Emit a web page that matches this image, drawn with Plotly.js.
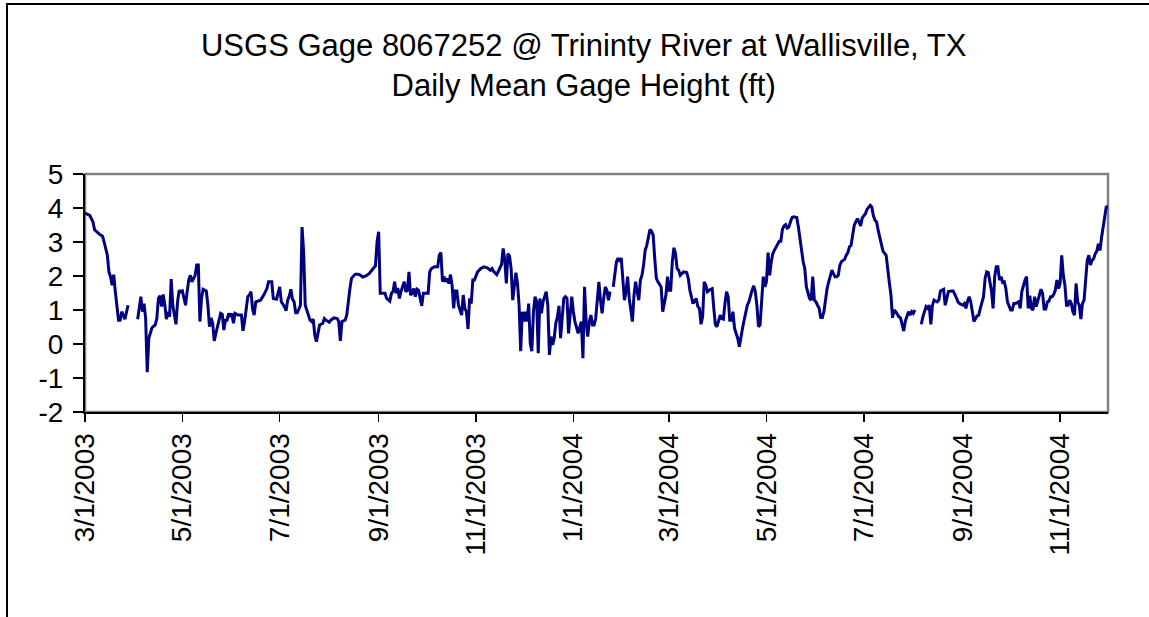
<!DOCTYPE html>
<html>
<head>
<meta charset="utf-8">
<script src="https://cdn.plot.ly/plotly-3.0.1.min.js"></script>
<style>
  html, body { margin: 0; padding: 0; background: #fff; }
  #wrap { position: relative; width: 1149px; height: 617px; overflow: hidden; }
  #chart { position: absolute; left: 0; top: 0; width: 1149px; height: 617px; }
  #frame { position: absolute; left: 6px; top: 3px; width: 1200px; height: 700px;
           border-left: 2px solid #000; border-top: 2px solid #000; pointer-events: none; }
</style>
</head>
<body>
<div id="wrap"><div id="chart"></div><div id="frame"></div></div>
<script>
// Series start date (day offset 0)
const startDate = '2003-03-01';

// Day offsets from 3/1/2003 at which gage height was read
const dayOffset = [
  0,3,5,6,9,11,12,14,15,16,17,18,19,21,22,23,25,26,27,30,
  33,34,35,36,37,38,39,40,42,44,45,46,47,48,49,50,51,52,53,54,
  55,57,58,59,60,61,63,64,65,66,67,69,70,71,72,73,74,76,77,78,
  79,80,81,82,83,84,85,86,87,88,89,90,91,92,93,94,96,98,99,100,
  102,103,104,105,106,107,109,110,112,114,115,117,118,119,120,122,123,125,126,127,
  128,129,130,131,132,133,135,136,137,138,140,141,142,143,144,145,147,149,150,151,
  153,154,156,158,159,160,161,163,164,165,166,167,169,170,172,174,176,178,179,181,
  182,183,184,185,186,188,189,191,192,193,194,195,196,197,198,199,200,201,202,203,
  204,205,206,207,208,209,211,212,214,215,216,217,219,221,222,223,224,225,226,227,
  228,229,230,231,232,233,234,235,236,237,238,239,240,241,242,243,244,246,248,250,
  252,254,255,256,258,259,261,262,263,264,265,266,267,268,269,270,271,272,273,274,
  275,276,277,278,279,280,281,282,283,284,285,286,287,289,290,291,292,293,294,295,
  296,297,298,299,300,301,302,303,304,305,306,307,309,311,312,313,314,315,316,317,
  318,319,320,321,322,323,324,325,326,327,328,329,330,
  331,332,333,334,335,336,337,338,339,340,341,342,343,344,345,346,347,348,349,350,
  351,352,353,354,355,356,357,358,359,360,361,362,363,364,365,366,367,368,369,370,
  371,372,373,375,377,378,379,380,381,383,384,385,386,387,388,389,390,392,393,394,
  395,396,397,398,399,400,401,402,403,404,405,406,407,408,409,410,411,412,413,414,
  415,416,417,418,419,420,421,422,423,424,425,426,427,428,429,430,431,432,
  434,435,436,437,438,439,440,441,442,443,444,446,447,448,449,450,451,452,453,454,
  455,456,457,458,459,460,461,462,463,464,465,466,467,468,469,470,471,472,473,474,
  475,476,477,478,479,480,481,482,483,484,485,486,487,489,490,492,493,494,495,496,
  497,498,499,500,502,503,504,505,506,507,508,510,511,512,513,514,516,517,518,519,520,522,
  524,525,527,528,529,530,531,532,534,535,536,538,539,540,541,543,544,546,547,548,
  550,551,552,553,554,555,556,557,559,560,561,562,563,564,565,566,567,568,569,570,
  571,572,573,574,575,576,577,578,580,581,582,583,585,586,587,588,589,590,591,592,
  593,594,595,596,598,599,600,601,602,603,604,605,606,607,608,609,610,611,612,613,
  614,615,616,617,618,619,620,621,622,623,624,625,626,627,628,629,630,631,632,633,634,635,636,637,638,639,640,641
];

// Daily mean gage height (ft); null = missing record
const gageHeightFt = [
  3.85,3.78,3.59,3.36,3.23,3.17,3.00,2.61,2.12,1.98,1.73,2.04,1.54,0.70,0.70,0.95,0.73,0.95,1.14,null,
  0.73,1.10,1.39,0.95,1.19,0.75,-0.83,0.17,0.48,0.56,0.75,1.34,1.42,1.10,1.46,1.16,0.73,0.95,0.80,1.91,
  1.14,0.58,1.24,1.58,1.54,1.56,1.14,1.54,1.88,2.02,1.83,2.02,2.32,2.32,0.66,1.34,1.61,1.56,1.14,0.51,
  0.77,0.61,0.09,0.31,0.48,0.66,0.90,0.87,0.41,0.70,0.70,0.90,0.80,0.90,0.61,0.90,0.85,0.85,0.39,0.66,
  1.39,1.44,1.54,1.03,0.85,1.24,1.29,1.29,1.44,1.63,1.83,1.83,1.34,1.34,1.32,1.68,1.24,1.10,0.98,1.29,
  1.41,1.61,1.32,1.24,0.92,0.92,1.14,3.44,2.71,1.14,0.80,0.70,0.66,0.73,0.26,0.07,0.56,0.61,0.75,0.70,
  0.64,0.70,0.77,0.75,0.66,0.09,0.66,0.70,0.85,1.29,1.63,1.93,2.04,2.06,2.04,1.97,2.00,2.07,2.12,2.22,
  2.30,3.00,3.30,1.49,1.49,1.49,1.34,1.26,1.49,1.54,1.83,1.49,1.65,1.34,1.54,1.71,1.83,1.54,1.58,2.12,
  1.44,1.49,1.63,1.39,1.61,1.58,1.12,1.49,1.49,1.49,2.12,2.22,2.27,2.27,2.61,2.69,1.83,1.98,1.83,1.93,
  1.78,2.04,1.73,1.05,1.56,1.56,1.14,0.95,0.85,1.44,1.05,0.95,0.44,1.34,1.19,1.88,1.88,2.12,2.22,2.27,
  2.24,2.17,2.22,2.14,2.04,2.14,2.34,2.81,2.49,1.78,2.66,2.59,2.22,1.29,1.63,2.10,1.78,1.14,-0.21,0.95,
  0.66,0.95,0.66,1.19,0.02,-0.21,0.95,1.39,1.24,-0.27,1.34,0.90,1.24,1.54,1.14,-0.32,0.22,-0.03,0.17,0.61,
  0.80,1.12,0.17,0.75,1.34,1.39,1.34,0.31,0.85,1.39,0.95,0.66,0.31,0.66,-0.42,1.68,0.66,0.22,0.66,0.85,
  0.56,0.56,0.75,1.34,1.83,1.29,0.90,1.34,1.68,1.58,1.29,1.54,null,
  1.68,2.12,2.42,2.53,2.42,2.53,1.88,1.29,1.54,1.98,1.34,0.95,0.66,1.44,1.83,1.54,1.29,1.88,2.02,2.32,
  2.76,2.90,3.15,3.37,3.32,3.20,2.51,1.93,1.83,1.73,1.68,0.95,1.24,1.44,1.98,1.58,1.58,2.42,2.83,2.66,
  2.22,2.17,2.02,2.12,2.10,1.93,1.58,1.34,1.19,1.34,1.10,1.05,0.58,0.80,1.83,1.73,1.54,1.61,1.63,1.05,
  0.56,0.51,0.66,0.85,0.75,0.73,1.19,1.54,1.39,0.70,0.70,0.95,0.46,0.31,0.17,-0.08,0.26,0.46,0.70,0.95,
  1.14,1.24,1.44,1.58,1.71,1.54,1.14,0.51,0.56,1.14,1.98,1.68,1.83,2.69,2.02,2.42,2.66,2.76,
  2.95,3.02,3.02,3.37,3.47,3.51,3.41,3.44,3.59,3.72,3.74,3.72,3.44,3.15,2.76,2.42,2.22,1.68,1.49,1.34,
  1.29,1.98,1.29,1.24,1.14,1.05,0.78,0.78,0.95,1.34,1.63,1.83,2.02,2.17,2.07,1.98,1.98,2.02,2.32,2.42,
  2.46,2.49,2.61,2.69,2.86,2.90,3.20,3.49,3.59,3.69,3.59,3.47,3.71,3.83,3.96,4.08,4.03,3.77,3.64,3.59,
  3.34,3.12,3.00,2.73,2.61,2.12,1.80,1.44,0.77,1.00,0.95,0.80,0.77,0.58,0.38,0.67,0.95,0.85,0.95,0.90,1.00,null,
  0.58,0.80,1.10,1.05,1.14,0.58,1.14,1.29,1.24,1.29,1.56,1.61,1.14,1.34,1.54,1.56,1.56,1.36,1.24,1.19,
  1.14,1.19,1.05,1.26,1.39,1.24,0.95,0.66,0.83,0.85,1.05,1.24,1.39,1.93,2.12,2.10,1.78,1.56,1.05,1.98,
  2.27,2.27,1.88,1.98,1.81,1.83,1.63,1.24,1.00,1.00,1.19,1.19,1.24,1.05,1.54,1.75,1.88,1.98,1.05,1.42,
  1.05,1.00,1.39,1.10,1.49,1.61,1.49,1.03,1.03,1.24,1.26,1.39,1.39,1.46,1.58,1.88,1.63,1.78,2.61,2.02,
  1.73,1.14,1.14,1.29,1.19,0.95,0.85,1.78,1.24,1.14,0.73,1.19,1.29,1.78,2.46,2.61,2.32,2.46,2.51,2.66,2.73,2.95,2.75,3.15,3.49,3.69,4.06,3.98
];

// X axis ticks
const tickDates = ['2003-03-01','2003-05-01','2003-07-01','2003-09-01','2003-11-01','2004-01-01',
                   '2004-03-01','2004-05-01','2004-07-01','2004-09-01','2004-11-01'];
const tickLabels = ['3/1/2003','5/1/2003','7/1/2003','9/1/2003','11/1/2003','1/1/2004',
                    '3/1/2004','5/1/2004','7/1/2004','9/1/2004','11/1/2004'];
// Y axis ticks (plain hyphen minus, as in the original)
const yTickVals = [-2, -1, 0, 1, 2, 3, 4, 5];
const yTickLabels = ['-2', '-1', '0', '1', '2', '3', '4', '5'];
const xRange = ['2003-03-01', '2004-12-01'];
const yRange = [-2, 5];

if (dayOffset.length !== gageHeightFt.length) {
  console.error('length mismatch', dayOffset.length, gageHeightFt.length);
}

const t0 = Date.parse(startDate + 'T00:00:00Z');
const dates = dayOffset.map(d => new Date(t0 + d * 86400000).toISOString().slice(0, 10));

const FONT = 'Liberation Sans, Arial, Helvetica, sans-serif';

const trace = {
  type: 'scatter',
  mode: 'lines',
  x: dates,
  y: gageHeightFt,
  connectgaps: false,
  line: { color: '#000080', width: 3 },
  hoverinfo: 'x+y'
};

const layout = {
  width: 1149,
  height: 617,
  margin: { l: 85, r: 41, t: 174, b: 205, pad: 0 },
  paper_bgcolor: '#ffffff',
  plot_bgcolor: '#ffffff',
  showlegend: false,
  font: { family: FONT, color: '#000000', size: 28 },
  title: {
    text: 'USGS Gage 8067252 @ Trininty River at Wallisville, TX<br>Daily Mean Gage Height (ft)',
    font: { family: FONT, size: 31, color: '#000000' },
    xref: 'container', x: 0.508, xanchor: 'center',
    yref: 'container', y: 0.91, yanchor: 'top'
  },
  xaxis: {
    type: 'date',
    range: xRange,
    tickmode: 'array',
    tickvals: tickDates,
    ticktext: tickLabels,
    tickangle: -90,
    ticks: 'outside',
    ticklen: 8,
    tickwidth: 1.5,
    tickcolor: '#000000',
    showline: true,
    linecolor: '#000000',
    linewidth: 2,
    showgrid: false,
    zeroline: false,
    tickfont: { family: FONT, size: 28, color: '#000000' },
    fixedrange: true
  },
  yaxis: {
    range: yRange,
    tickmode: 'array',
    tickvals: yTickVals,
    ticktext: yTickLabels,
    ticks: 'outside',
    ticklen: 10,
    tickwidth: 1.5,
    tickcolor: '#000000',
    showline: true,
    linecolor: '#000000',
    linewidth: 2,
    showgrid: false,
    zeroline: false,
    ticklabelstandoff: 4,
    tickfont: { family: FONT, size: 28, color: '#000000' },
    fixedrange: true
  },
  shapes: [{
    type: 'rect', xref: 'paper', yref: 'paper', x0: 0, x1: 1, y0: 0, y1: 1,
    line: { color: '#808080', width: 2.5 }, layer: 'below'
  }]
};

Plotly.newPlot('chart', [trace], layout, { displayModeBar: false, staticPlot: true });
</script>
</body>
</html>
